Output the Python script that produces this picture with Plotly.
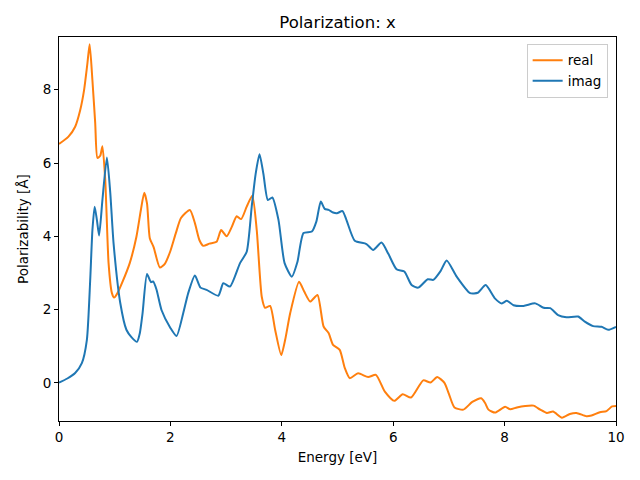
import plotly.graph_objects as go

# Energy grid and values
real_x = [0.0, 0.17, 0.29, 0.38, 0.45, 0.51, 0.55, 0.6, 0.65, 0.69, 0.74, 0.78, 0.83, 0.89, 0.95, 0.99,
          1.05, 1.13, 1.27, 1.39, 1.47, 1.53, 1.58, 1.63, 1.7, 1.81, 1.9, 2.0, 2.1, 2.19, 2.35, 2.44,
          2.52, 2.59, 2.7, 2.83, 2.91, 3.01, 3.1, 3.19, 3.27, 3.37, 3.47, 3.55, 3.64, 3.7, 3.79, 3.88,
          3.99, 4.07, 4.15, 4.31, 4.4, 4.51, 4.64, 4.75, 4.84, 4.92, 5.04, 5.13, 5.22, 5.37, 5.55, 5.69,
          5.85, 6.02, 6.17, 6.32, 6.54, 6.67, 6.79, 6.92, 7.0, 7.1, 7.26, 7.42, 7.58, 7.65, 7.71, 7.83,
          8.01, 8.1, 8.22, 8.37, 8.52, 8.64, 8.76, 8.87, 9.03, 9.17, 9.29, 9.47, 9.56, 9.71, 9.83, 9.93, 10.0]
real_y = [6.52, 6.72, 6.99, 7.44, 7.99, 8.72, 9.24, 8.26, 7.09, 6.14, 6.2, 6.46, 5.54, 3.27, 2.45, 2.33,
          2.45, 2.72, 3.27, 3.99, 4.72, 5.19, 4.9, 3.95, 3.7, 3.15, 3.25, 3.6, 4.1, 4.5, 4.72, 4.36,
          3.9, 3.74, 3.8, 3.85, 4.17, 4.0, 4.25, 4.55, 4.47, 4.81, 5.11, 4.17, 2.35, 2.05, 2.1, 1.45,
          0.76, 1.25, 1.9, 2.76, 2.5, 2.22, 2.4, 1.54, 1.36, 1.04, 0.9, 0.41, 0.13, 0.26, 0.16, 0.22,
          -0.24, -0.49, -0.31, -0.4, 0.07, 0.01, 0.16, 0.0, -0.3, -0.67, -0.73, -0.52, -0.42, -0.55, -0.73, -0.81,
          -0.65, -0.72, -0.67, -0.63, -0.62, -0.73, -0.82, -0.78, -0.95, -0.85, -0.82, -0.91, -0.89, -0.8, -0.77, -0.64, -0.63]

imag_x = [0.0, 0.15, 0.29, 0.41, 0.5, 0.56, 0.6, 0.64, 0.68, 0.72, 0.78, 0.86, 0.92, 0.98, 1.1, 1.21,
          1.3, 1.4, 1.45, 1.5, 1.58, 1.65, 1.69, 1.75, 1.84, 2.0, 2.11, 2.23, 2.32, 2.44, 2.54, 2.65,
          2.86, 2.95, 3.07, 3.25, 3.37, 3.46, 3.53, 3.6, 3.67, 3.75, 3.83, 3.94, 4.05, 4.18, 4.28, 4.39,
          4.54, 4.62, 4.7, 4.77, 4.84, 4.92, 4.99, 5.09, 5.16, 5.31, 5.52, 5.64, 5.79, 5.91, 6.06, 6.2,
          6.33, 6.45, 6.62, 6.72, 6.85, 6.96, 7.14, 7.38, 7.52, 7.66, 7.83, 7.95, 8.04, 8.16, 8.34, 8.55,
          8.7, 8.82, 8.96, 9.11, 9.32, 9.44, 9.59, 9.74, 9.86, 10.0]
imag_y = [0.01, 0.12, 0.27, 0.54, 1.17, 2.8, 4.17, 4.81, 4.45, 4.02, 5.0, 6.15, 5.2, 3.8, 2.18, 1.45,
          1.25, 1.12, 1.35, 1.9, 2.97, 2.75, 2.77, 2.55, 1.99, 1.5, 1.28, 1.9, 2.45, 2.93, 2.6, 2.54,
          2.38, 2.72, 2.63, 3.27, 3.58, 4.81, 5.7, 6.24, 5.7, 4.99, 5.06, 4.45, 3.27, 2.9, 3.3, 4.09,
          4.13, 4.4, 4.95, 4.75, 4.72, 4.65, 4.63, 4.69, 4.45, 3.88, 3.79, 3.63, 3.83, 3.53, 3.1, 3.04,
          2.67, 2.6, 2.83, 2.81, 3.05, 3.34, 2.9, 2.45, 2.46, 2.67, 2.3, 2.17, 2.24, 2.12, 2.1, 2.17,
          2.05, 2.04, 1.85, 1.79, 1.81, 1.67, 1.55, 1.53, 1.45, 1.53]

x_ticks = [0, 2, 4, 6, 8, 10]
y_ticks = [0, 2, 4, 6, 8]

FONT = "DejaVu Sans"

fig = go.Figure()
fig.add_trace(go.Scatter(x=real_x, y=real_y, mode="lines", name="real",
                         line=dict(color="#ff7f0e", width=2, shape="spline", smoothing=0.6)))
fig.add_trace(go.Scatter(x=imag_x, y=imag_y, mode="lines", name="imag",
                         line=dict(color="#1f77b4", width=2, shape="spline", smoothing=0.6)))

axis_common = dict(showgrid=False, zeroline=False, showline=True, linecolor="black", linewidth=1,
                   mirror=True, ticks="outside", ticklen=4, tickwidth=1, tickcolor="black",
                   tickfont=dict(family=FONT, size=13.5, color="black"))

fig.update_layout(
    width=640, height=480,
    margin=dict(l=59, r=24, t=37, b=59),
    paper_bgcolor="white", plot_bgcolor="white",
    title=dict(text="Polarization: x", x=(59 + 616) / 2 / 640, xanchor="center",
               y=1 - 22 / 480, yanchor="middle",
               font=dict(family=FONT, size=16.5, color="black")),
    xaxis=dict(range=[0, 10], tickvals=x_ticks,
               title=dict(text="Energy [eV]", font=dict(family=FONT, size=13.5, color="black"),
                          standoff=8),
               **axis_common),
    yaxis=dict(range=[-1.04, 9.44], tickvals=y_ticks,
               title=dict(text="Polarizability [Å]", font=dict(family=FONT, size=13.5, color="black"),
                          standoff=10),
               **axis_common),
    legend=dict(x=0.985, y=0.982, xanchor="right", yanchor="top",
                bgcolor="rgba(255,255,255,0.8)", bordercolor="#cccccc", borderwidth=1,
                font=dict(family=FONT, size=13.5, color="black"),
                itemwidth=30, tracegroupgap=2),
    showlegend=True,
)

fig.write_html("out.html", config={"displayModeBar": False},
               post_script="document.body.style.margin='0';document.body.style.padding='0';")
